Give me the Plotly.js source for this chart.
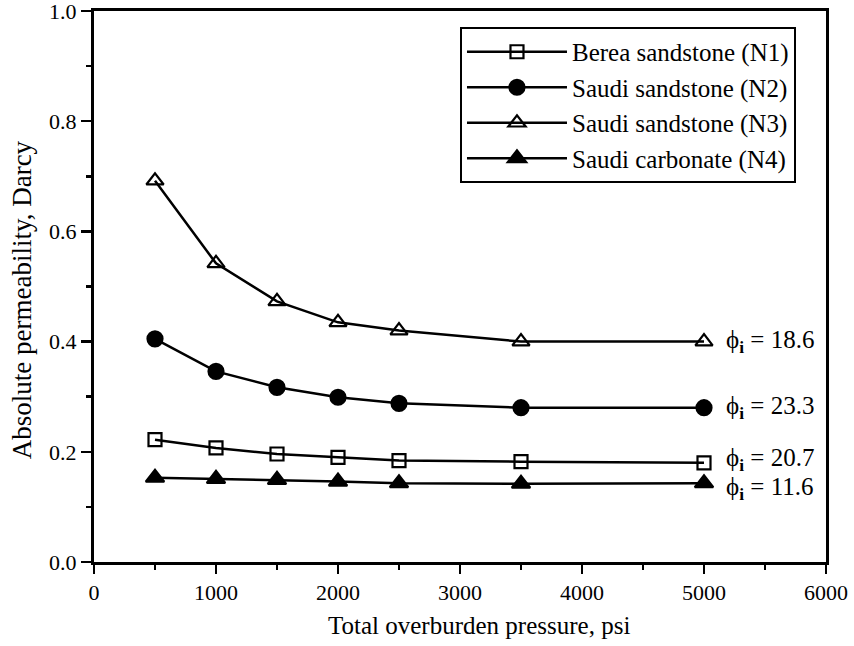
<!DOCTYPE html>
<html>
<head>
<meta charset="utf-8">
<script src="https://cdn.plot.ly/plotly-3.0.1.min.js"></script>
<style>html,body{margin:0;padding:0;background:#fff;}</style>
</head>
<body>
<div id="chart" style="width:854px;height:646px;"></div>
<script>
const pressure = [500, 1000, 1500, 2000, 2500, 3500, 5000];
const bereaN1 = [0.222, 0.207, 0.196, 0.190, 0.184, 0.182, 0.180];
const saudiN2 = [0.405, 0.346, 0.317, 0.299, 0.288, 0.280, 0.280];
const saudiN3 = [0.692, 0.542, 0.473, 0.435, 0.420, 0.400, 0.400];
const carbN4 = [0.153, 0.151, 0.149, 0.146, 0.143, 0.142, 0.143];
const seriesNames = ["Berea sandstone (N1)", "Saudi sandstone (N2)", "Saudi sandstone (N3)", "Saudi carbonate (N4)"];
const porosity = ["20.7", "23.3", "18.6", "11.6"];
const xTicks = [0, 1000, 2000, 3000, 4000, 5000, 6000];
const yTicks = [0.0, 0.2, 0.4, 0.6, 0.8, 1.0];
const xTitle = "Total overburden pressure, psi";
const yTitle = "Absolute permeability, Darcy";

const FONT = "Liberation Serif, Times New Roman, serif";
const series = [bereaN1, saudiN2, saudiN3, carbN4];
const symbols = ["square-open", "circle", "triangle-up-open", "triangle-up"];
const sizes = [13, 15, 15, 16];

const traces = series.map((ys, i) => ({
  x: pressure, y: ys, name: seriesNames[i], type: "scatter", mode: "lines+markers",
  line: {color: "#000", width: 2.5},
  marker: {symbol: symbols[i], size: sizes[i], color: "#000", line: {color: "#000", width: 2.2}}
}));

const yShift = [3, 0, 0, -5];
const annotations = series.map((ys, i) => ({
  xref: "x", yref: "y", x: pressure[pressure.length - 1], y: ys[ys.length - 1],
  xanchor: "left", yanchor: "middle", xshift: 20, yshift: yShift[i], showarrow: false,
  text: "\u03D5<sub><b>i</b></sub> = " + porosity[i],
  font: {family: FONT, size: 25, color: "#000"}
}));
annotations.push({
  xref: "paper", yref: "paper", x: 0.526, y: 0, yshift: -63, xanchor: "center", yanchor: "middle",
  showarrow: false, text: xTitle, font: {family: FONT, size: 25, color: "#000"}
});
annotations.push({
  xref: "paper", yref: "paper", x: 0, xshift: -72, y: 0.475, xanchor: "center", yanchor: "middle",
  textangle: -90, showarrow: false, text: yTitle, font: {family: FONT, size: 27, color: "#000"}
});

const layout = {
  width: 854, height: 646,
  margin: {l: 94, r: 28, t: 11, b: 84},
  paper_bgcolor: "#fff", plot_bgcolor: "#fff",
  font: {family: FONT, color: "#000", size: 22},
  showlegend: true,
  legend: {
    x: 0.959, xanchor: "right", y: 0.971, yanchor: "top",
    bordercolor: "#000", borderwidth: 2, bgcolor: "#fff",
    font: {family: FONT, size: 25, color: "#000"},
    itemwidth: 100, tracegroupgap: 0
  },
  xaxis: {
    range: [0, 6000], tickvals: xTicks, ticktext: xTicks.map(String),
    ticks: "outside", ticklen: 9, tickwidth: 2.5, tickcolor: "#000",
    minor: {dtick: 500, ticks: "outside", ticklen: 5, tickwidth: 2.5, tickcolor: "#000"},
    showline: true, linewidth: 3, linecolor: "#000", mirror: true,
    showgrid: false, zeroline: false, ticklabeloverflow: "allow",
    tickfont: {family: FONT, size: 22, color: "#000"}
  },
  yaxis: {
    range: [0, 1.0], tickvals: yTicks, ticktext: yTicks.map(v => v.toFixed(1)),
    ticks: "outside", ticklen: 10, tickwidth: 2.5, tickcolor: "#000",
    minor: {dtick: 0.1, ticks: "outside", ticklen: 5, tickwidth: 2.5, tickcolor: "#000"},
    showline: true, linewidth: 3, linecolor: "#000", mirror: true,
    showgrid: false, zeroline: false, ticklabeloverflow: "allow",
    tickfont: {family: FONT, size: 22, color: "#000"}
  },
  annotations: annotations
};

Plotly.newPlot("chart", traces, layout, {displayModeBar: false, staticPlot: true});
</script>
</body>
</html>
